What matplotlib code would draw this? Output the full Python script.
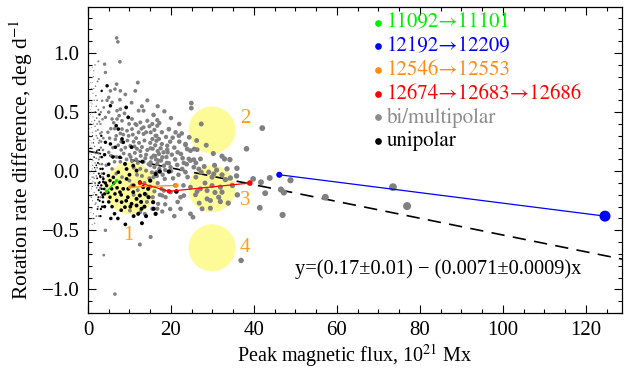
import numpy as np
import matplotlib
matplotlib.use('Agg')
import matplotlib.pyplot as plt
from matplotlib.ticker import MultipleLocator

plt.rcParams['font.family'] = ['Liberation Serif', 'DejaVu Serif']
plt.rcParams['mathtext.fontset'] = 'stix'

# bi/multipolar regions (gray)
gray_x = [42.0, 38.2, 39.8, 41.7, 43.8, 42.7, 46.5, 47.2, 48.8, 41.4, 46.9, 57.2, 73.5, 76.9, 35.9, 35.8, 36.9,
          24.9, 24.9, 18.4, 15.8, 16.7, 17.2, 27.3, 19.5, 20.4, 24.4, 16.5, 15.5, 16.5, 23.5, 15.1, 17.5, 19.1,
          22.4, 24.7, 25.6, 26.3, 24.3, 25.5, 27.1, 32.3, 32.9, 34.2, 15.8, 17.1, 17.9, 15.1, 16.7, 18.3, 19.5,
          19.9, 21.5, 22.7, 23.5, 25.5, 26.7, 27.3, 29.1, 30.3, 29.9, 23.1, 24.7, 32.3, 34.3, 33.1,
          24.7, 27.1, 26.3, 28.7, 29.9, 31.9, 32.3, 23.1, 25.9, 28.7, 29.5, 31.5, 31.9, 29.5, 27.5, 22.3, 24.7,
          25.3, 17.9, 16.7, 22.3, 19.9, 18.3, 17.9, 18.7, 15.1,
          2.5, 4.0, 4.2, 5.4, 6.5, 7.8, 11.4, 6.9, 7.7, 14.3, 5.0, 5.8, 3.4, 3.8, 7.0, 7.8, 12.2, 13.4, 15.8,
          4.2, 5.8, 7.0, 8.2, 10.6, 11.4, 12.6, 14.3, 15.5, 16.7, 8.2, 9.4, 10.6, 12.2, 13.4, 15.1, 16.3, 17.1,
          19.5, 21.1, 21.9, 11.7, 13.4, 19.1, 19.2, 23.5, 23.9, 12.5, 3.8, 6.5, 6.9, 7.2, 7.7,
          8.0, 9.5, 11.0, 12.3, 13.6, 15.0, 16.2, 17.8, 9.0, 10.2, 11.8, 13.0, 14.3, 15.6, 16.8, 18.2, 8.6,
          10.0, 11.3, 12.7, 14.0, 15.3, 16.4, 17.6, 9.3, 10.6, 12.0, 13.4, 14.6, 16.0, 17.2, 18.6, 11.0, 12.6,
          14.0, 15.4, 13.0, 14.8, 16.6, 18.0, 6.8, 8.5, 6.0, 7.3, 5.6, 6.9, 5.2, 6.4,
          10.1, 13.7, 16.9, 17.7, 18.5, 16.5, 15.8, 16.8, 17.3, 15.6, 14.2, 11.0, 12.6, 15.5, 20.5, 21.0,
          5.5, 6.2, 7.5, 8.8, 9.9, 10.8, 11.6, 12.9, 14.0, 14.8, 16.0, 17.8, 18.8, 19.8, 20.8, 21.6, 22.8, 23.8,
          21.0, 20.2, 18.9, 17.0, 19.0, 20.0, 21.8, 22.0, 6.6, 7.8, 9.8, 11.2, 12.6, 13.8, 15.0, 16.2, 8.0, 9.0,
          10.3, 11.6, 7.8, 6.4, 5.8, 6.8, 8.2, 10.0, 11.8, 13.6, 15.0, 14.0, 12.0, 10.6, 16.0, 18.6, 19.8, 20.8,
          21.6, 23.0, 24.0, 26.0, 28.0, 30.5, 31.0, 33.5, 34.8, 36.0, 33.8, 26.8, 28.2, 30.6, 26.0, 22.6, 26.2,
          28.5, 30.2, 13.0, 10.5, 16.8, 20.0, 22.0, 9.0, 12.0, 4.6, 5.0, 4.8, 5.0, 4.4]
gray_y = [0.365, 0.19, -0.065, -0.093, -0.057, -0.186, -0.155, -0.18, -0.076, -0.31, -0.37, -0.22, -0.135, -0.295, 0.025, -0.04, -0.755,
          0.577, 0.534, 0.507, 0.478, 0.433, 0.408, 0.40, 0.355, 0.284, 0.287, 0.30, 0.273, 0.258, 0.23, 0.194, 0.194, 0.182,
          0.146, 0.174, 0.188, 0.182, 0.104, 0.098, 0.104, 0.127, 0.104, 0.098, 0.132, 0.146, 0.118, 0.076, 0.062, 0.047, 0.068,
          0.034, 0.053, 0.019, -0.008, 0.034, 0.019, -0.008, -0.008, -0.023, -0.05, 0.07, 0.09, -0.031, -0.057, -0.071,
          -0.135, -0.149, -0.172, -0.164, -0.122, -0.135, -0.177, -0.206, -0.20, -0.234, -0.248, -0.22, -0.257, -0.313, -0.318, -0.318, -0.361,
          -0.389, -0.341, -0.318, -0.22, -0.177, -0.164, -0.206, -0.22, -0.557,
          0.93, 0.906, 0.836, 0.68, 0.695, 0.68, 0.68, 0.737, 0.605, 0.60, 0.625, 0.583, 0.596, 0.54, 0.512, 0.526, 0.512, 0.512, 0.475,
          0.456, 0.442, 0.442, 0.427, 0.442, 0.40, 0.413, 0.427, 0.40, 0.385, 0.357, 0.343, 0.357, 0.329, 0.315, 0.329, 0.30, 0.273,
          0.357, 0.329, 0.30, 0.391, 0.372, 0.216, 0.16, 0.222, 0.188, -0.62, -0.71, -1.04, 1.128, 1.095, 0.926,
          0.25, 0.26, 0.25, 0.24, 0.26, 0.24, 0.22, 0.23, 0.20, 0.215, 0.19, 0.205, 0.18, 0.19, 0.17, 0.16, 0.15,
          0.14, 0.155, 0.13, 0.14, 0.115, 0.10, 0.09, 0.10, 0.085, 0.07, 0.08, 0.06, 0.035, 0.02, 0.01, 0.03, 0.02,
          0.005, -0.01, -0.04, -0.06, -0.04, -0.03, 0.30, 0.31, 0.20, 0.22, 0.13, 0.12, 0.28, 0.36,
          -0.333, -0.361, -0.276, -0.149, -0.065, -0.008, -0.05, -0.10, -0.20, -0.22, -0.26, -0.20, -0.346, -0.318, -0.06, -0.12,
          0.36, 0.41, 0.47, 0.49, 0.40, 0.31, 0.28, 0.36, 0.33, 0.38, 0.35, 0.33, 0.29, 0.25, 0.20, 0.16, 0.11, 0.06,
          0.10, 0.14, 0.12, 0.09, 0.07, 0.00, -0.03, 0.25, 0.27, 0.32, 0.30, 0.21, 0.17, 0.11, 0.05, 0.13, 0.18, 0.06,
          0.12, 0.10, 0.08, 0.08, 0.02, -0.02, -0.05, -0.08, -0.03, -0.10, -0.13, -0.20, -0.16, -0.12, -0.17, -0.28, -0.32, -0.38,
          -0.26, -0.12, -0.05, 0.07, 0.04, 0.05, 0.01, 0.02, -0.12, -0.20, -0.27, -0.27, -0.10, -0.18, -0.05, 0.32, 0.26,
          0.22, 0.15, 0.55, 0.58, 0.55, 0.45, 0.40, 0.65, 0.75, 0.60, 0.50, 0.33, 0.16, 0.05]

# tiny gray points at low flux
tiny_gray_x = [0.5, 0.8, 1.2, 0.6, 1.5, 2.1, 0.9, 1.7, 0.4, 1.1, 2.4, 0.7, 1.4, 2.0, 2.8, 0.5, 1.0, 1.6, 2.3, 3.1,
               0.8, 1.3, 1.9, 2.6, 0.4, 1.1, 1.7, 2.2, 0.7, 1.4, 2.0, 0.5, 1.2, 1.8, 0.9, 1.5, 0.6, 1.1, 1.7, 0.8,
               1.3, 0.5, 2.4, 3.0, 0.6, 1.3, 0.9, 2.2, 1.8, 0.3, 0.3, 0.3, 2.7, 3.3, 2.5, 0.7, 1.9, 1.0, 2.9, 3.4,
               2.5, 2.1, 3.6, 1.6, 1.2, 0.4, 2.6, 1.8, 0.9, 0.4, 1.0, 2.0, 1.4, 2.6, 1.0, 0.4, 4.2, 1.0,
               0.3, 0.6, 1.0, 1.5, 2.0, 2.6, 3.0, 0.4, 0.8, 1.3, 1.9, 2.3, 3.2, 3.6, 0.5, 0.9, 1.5, 2.0, 2.8, 3.3,
               0.6, 1.0, 1.5, 2.1, 2.9, 0.3, 0.8, 1.3, 1.9, 2.6, 0.4, 0.7, 1.1, 1.6, 0.9, 1.4, 2.3, 0.5, 1.7, 3.1,
               3.5, 2.2, 2.9, 3.7, 1.2, 0.5, 2.5, 3.4]
tiny_gray_y = [0.62, 0.55, 0.66, 0.48, 0.50, 0.45, 0.42, 0.38, 0.36, 0.33, 0.35, 0.29, 0.27, 0.30, 0.26, 0.22, 0.19, 0.21, 0.18, 0.20,
               0.14, 0.12, 0.15, 0.10, 0.08, 0.05, 0.07, 0.03, 0.00, -0.02, -0.04, -0.07, -0.09, -0.12, -0.15, -0.18, -0.21, -0.25, -0.28, -0.32,
               -0.36, -0.41, -0.30, -0.22, 0.75, 0.80, 0.70, 0.60, 0.72, 0.45, 0.15, -0.12, 0.42, 0.33, 0.52, 0.58, 0.64, 0.88, 0.12, 0.06,
               -0.10, -0.20, -0.05, 0.43, 0.46, 0.30, 0.24, 0.01, -0.05, -0.28, -0.45, -0.38, 0.85, 0.78, 0.75, 0.737, -0.50, -0.40,
               0.55, 0.52, 0.57, 0.60, 0.55, 0.48, 0.40, 0.40, 0.37, 0.40, 0.34, 0.28, 0.25, 0.18, 0.26, 0.24, 0.16, 0.11, 0.06, -0.02,
               0.11, 0.02, -0.06, -0.14, -0.14, -0.02, -0.10, -0.20, -0.27, -0.38, -0.17, -0.35, -0.31, -0.44, 0.50, 0.70, 0.76, 0.85, 0.90, 0.50,
               0.44, 0.40, 0.32, 0.28, 0.09, 0.33, 0.15, 0.12]

# unipolar regions (black)
black_x = [3.3, 4.6, 5.4, 9.2, 9.7, 6.8, 7.3, 4.2, 5.4, 6.6, 8.2, 13.1, 17.3, 19.5, 16.3, 21.3, 16.3, 15.8,
           8.5, 10.5, 7.7, 8.9, 9.3, 10.9, 11.7, 7.3, 6.1, 5.3, 4.5, 5.7, 6.5, 7.7, 8.5, 9.7, 10.9, 12.5, 11.7,
           13.7, 14.5, 8.1, 8.9, 10.5, 11.7, 12.9, 12.1, 6.9, 5.3, 4.0, 3.3, 2.8, 3.7, 4.9, 15.7, 7.7, 9.3, 12.5, 13.3,
           3.0, 3.5, 4.2, 4.8, 5.0, 5.8, 6.4, 7.2, 8.0, 9.6, 10.2, 11.0, 12.8, 13.6, 14.6, 6.2, 7.0, 8.0, 9.2, 10.0,
           11.0, 3.6, 4.0, 3.0, 5.0, 6.0, 4.0, 3.2, 2.8, 13.0, 14.0, 9.0, 15.0, 5.5, 2.6, 2.4]
black_y = [0.68, 0.723, 0.554, 0.54, 0.456, 0.385, 0.357, 0.245, 0.231, 0.203, 0.273, 0.081, -0.003, -0.003, -0.023, -0.172, -0.361, -0.318,
           0.245, 0.203, 0.118, 0.062, 0.019, 0.047, 0.005, -0.008, -0.051, -0.079, -0.122, -0.149, -0.192, -0.177, -0.149, -0.149, -0.177, -0.206, -0.234,
           -0.192, -0.149, -0.262, -0.304, -0.276, -0.29, -0.318, -0.361, -0.248, -0.22, -0.192, -0.149, -0.093, -0.065, -0.037, -0.262, -0.093, -0.065, -0.093, -0.135,
           -0.05, 0.02, -0.10, -0.18, -0.26, -0.30, -0.36, -0.40, -0.33, -0.22, -0.30, -0.38, -0.26, -0.30, -0.22, -0.10, -0.14, -0.20, -0.25, -0.03,
           -0.12, -0.22, -0.30, -0.38, 0.06, 0.12, 0.14, 0.30, 0.48, -0.44, -0.38, -0.45, -0.08, -0.40, -0.02, -0.12]

tiny_black_x = [0.6, 1.3, 0.9, 1.6, 2.2, 1.0, 1.9, 2.6, 3.2, 2.8, 3.5, 2.4, 3.0, 3.7, 2.3, 3.4, 1.4, 0.7, 1.8,
                2.9, 3.1, 2.7, 3.6, 2.5, 3.9, 3.3, 2.1, 3.8, 1.2, 1.7, 2.0, 0.8, 1.5, 2.7, 1.1, 2.4, 3.1, 0.9]
tiny_black_y = [0.40, 0.24, 0.10, 0.03, -0.06, -0.13, -0.20, -0.16, -0.12, -0.25, -0.20, 0.07, 0.02, -0.09, -0.32, -0.30, -0.40, 0.20, 0.50,
                -0.04, -0.18, -0.10, -0.26, -0.22, -0.15, 0.12, 0.17, -0.02, -0.05, -0.10, 0.05, -0.22, 0.12, 0.18, 0.30, -0.24, -0.32, 0.00]

# tracked regions
green_x = [4.5, 6.9]
green_y = [-0.17, -0.08]
blue_x = [46.1, 124.6]
blue_y = [-0.03, -0.38]
orange_x = [10.1, 21.3]
orange_y = [-0.135, -0.12]
red_x = [12.5, 19.5, 39.0]
red_y = [-0.10, -0.17, -0.10]

# linear fit
fit_a = 0.17
fit_b = -0.0071

# highlighted areas
circ_x = [10.2, 29.9, 29.9, 29.9]
circ_y = [-0.144, 0.349, -0.149, -0.648]
circ_d = [52, 47, 47, 47]  # pixels
circ_lab = ['1', '2', '3', '4']
lab_x = [9.8, 37.9, 37.9, 37.9]
lab_y = [-0.544, 0.447, -0.248, -0.648]

legend_txt = ['11092→11101', '12192→12209', '12546→12553', '12674→12683→12686', 'bi/multipolar', 'unipolar']
legend_col = ['#00ee00', '#0000ff', '#ff8c1a', '#ff0000', '#8c8c8c', '#000000']


def msize(x):
    x = np.asarray(x, dtype=float)
    d = np.where(x < 4, 0.5 + 0.6 * x, 3.2 + 0.063 * x)  # diameter in px
    return (d * 0.72) ** 2


fig = plt.figure(figsize=(6.25, 3.7), dpi=100)
ax = fig.add_axes([88 / 625, 1 - 313 / 370, 534 / 625, 306 / 370])

ax.scatter(circ_x, circ_y, s=[(d * 0.72) ** 2 for d in circ_d], color='#fdfb98', edgecolors='none', zorder=1)
for i in range(4):
    ax.text(lab_x[i], lab_y[i], circ_lab[i], color='#ff9e1a', fontsize=15, ha='center', va='center', zorder=2)

xf = np.array([0, 128.7])
ax.plot(xf, fit_a + fit_b * xf, color='black', lw=1.2, dashes=(8, 5), zorder=2)

ax.scatter(tiny_gray_x, tiny_gray_y, s=msize(tiny_gray_x), color='#808080', edgecolors='none', zorder=3)
ax.scatter(gray_x, gray_y, s=msize(gray_x), color='#808080', edgecolors='none', zorder=3)
ax.scatter(tiny_black_x, tiny_black_y, s=msize(tiny_black_x), color='black', edgecolors='none', zorder=4)
ax.scatter(black_x, black_y, s=msize(black_x), color='black', edgecolors='none', zorder=4)

for tx, ty, c in [(green_x, green_y, legend_col[0]), (blue_x, blue_y, legend_col[1]),
                  (orange_x, orange_y, legend_col[2]), (red_x, red_y, legend_col[3])]:
    ax.plot(tx, ty, color=c, lw=0.9, zorder=5)
    ax.scatter(tx, ty, s=msize(tx), color=c, edgecolors='none', zorder=6)

# legend
for i, (t, c) in enumerate(zip(legend_txt, legend_col)):
    yy = 0.949 - i * 0.0775
    ax.plot([0.5425], [yy], 'o', ms=3.8, color=c, transform=ax.transAxes, zorder=7)
    ax.text(0.559, yy, t, color=c, fontsize=15, family=['STIXGeneral', 'DejaVu Serif'],
            ha='left', va='center', transform=ax.transAxes, zorder=7)

ax.text(50, -0.825, 'y=(0.17±0.01) − (0.0071±0.0009)x', fontsize=14.7, ha='left', va='center', zorder=7)

ax.set_xlim(0, 128.7)
ax.set_ylim(-1.2, 1.39)
ax.xaxis.set_major_locator(MultipleLocator(20))
ax.xaxis.set_minor_locator(MultipleLocator(5))
ax.yaxis.set_major_locator(MultipleLocator(0.5))
ax.yaxis.set_minor_locator(MultipleLocator(0.1))
ax.tick_params(which='both', direction='in', top=True, right=True, labelsize=15, width=0.8)
ax.tick_params(which='major', length=6, pad=6)
ax.tick_params(which='minor', length=3)
for sp in ax.spines.values():
    sp.set_linewidth(0.9)

ax.set_xlabel('Peak magnetic flux, 10$^{21}$ Mx', fontsize=14.5, labelpad=1)
ax.set_ylabel('Rotation rate difference, deg d$^{-1}$', fontsize=15.5, labelpad=5)

fig.savefig('out.png', dpi=100)
